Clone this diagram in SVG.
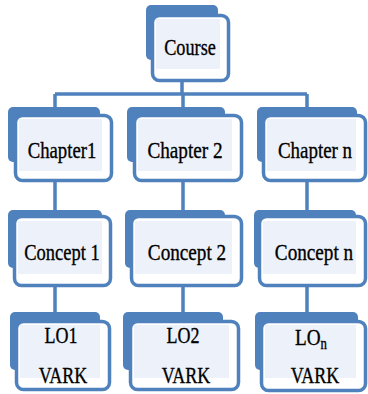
<svg xmlns="http://www.w3.org/2000/svg" width="368" height="394" viewBox="0 0 368 394">
<style>
.back{fill:#4f81bd}
.front{fill:#ffffff;stroke:#4f81bd;stroke-width:3.5}
.inner{fill:#edf1f9}
.lbl{font-family:"Liberation Serif","Times New Roman",serif;font-size:24px;fill:#000;stroke:#000;stroke-width:0.35;text-anchor:middle}
.conn{stroke:#4f81bd;stroke-width:3.5;fill:none}
</style>
<rect width="368" height="394" fill="#ffffff"/>
<g id="connectors">
<path class="conn" d="M182,80 V94 M55,94 H307 M55,94 V110 M183,94 V110 M307,94 V110"/>
<path class="conn" d="M55,180 V212 M183,180 V212 M307,180 V212"/>
<path class="conn" d="M55,285 V315 M183,285 V315 M307,285 V315"/>
</g>
<g id="course">
<rect class="back" x="146" y="5" width="72" height="55" rx="5"/>
<rect class="front" x="152.5" y="15.5" width="76" height="65" rx="7"/>
<rect class="inner" x="156" y="19" width="64" height="50"/>
<text class="lbl" font-family="Liberation Serif, serif" font-size="26" transform="translate(190,55) scale(0.76,1)">Course</text>
</g>
<g id="chapter1">
<rect class="back" x="8" y="107" width="92" height="55" rx="5"/>
<rect class="front" x="15.5" y="115.5" width="96" height="65" rx="7"/>
<rect class="inner" x="19" y="119" width="83" height="52"/>
<text class="lbl" font-family="Liberation Serif, serif" transform="translate(62,158) scale(0.78,1)">Chapter1</text>
</g>
<g id="chapter2">
<rect class="back" x="127" y="107" width="98" height="55" rx="5"/>
<rect class="front" x="134.5" y="115.5" width="107" height="65" rx="7"/>
<rect class="inner" x="138" y="119" width="94" height="52"/>
<text class="lbl" font-family="Liberation Serif, serif" transform="translate(185,158) scale(0.8,1)">Chapter 2</text>
</g>
<g id="chaptern">
<rect class="back" x="257" y="107" width="100" height="55" rx="5"/>
<rect class="front" x="263.5" y="115.5" width="102" height="65" rx="7"/>
<rect class="inner" x="267" y="119" width="89" height="52"/>
<text class="lbl" font-family="Liberation Serif, serif" transform="translate(315,158) scale(0.79,1)">Chapter n</text>
</g>
<g id="concept1">
<rect class="back" x="8" y="210" width="94" height="58" rx="5"/>
<rect class="front" x="14.5" y="216.5" width="96" height="69" rx="7"/>
<rect class="inner" x="18" y="221" width="84" height="53"/>
<text class="lbl" font-family="Liberation Serif, serif" transform="translate(62,260) scale(0.77,1)">Concept 1</text>
</g>
<g id="concept2">
<rect class="back" x="125" y="210" width="100" height="58" rx="5"/>
<rect class="front" x="131.5" y="216.5" width="110" height="69" rx="7"/>
<rect class="inner" x="135" y="221" width="97" height="53"/>
<text class="lbl" font-family="Liberation Serif, serif" transform="translate(187,260) scale(0.8,1)">Concept 2</text>
</g>
<g id="conceptn">
<rect class="back" x="254" y="210" width="102" height="58" rx="5"/>
<rect class="front" x="259.5" y="216.5" width="106" height="69" rx="7"/>
<rect class="inner" x="263" y="221" width="93" height="53"/>
<text class="lbl" font-family="Liberation Serif, serif" transform="translate(314,260) scale(0.8,1)">Concept n</text>
</g>
<g id="lo1">
<rect class="back" x="10" y="312" width="90" height="58" rx="5"/>
<rect class="front" x="16.5" y="321.5" width="93" height="68" rx="7"/>
<rect class="inner" x="20" y="325" width="80" height="53"/>
<text class="lbl" font-family="Liberation Serif, serif" transform="translate(61,343) scale(0.75,1)">LO1</text>
<text class="lbl" font-family="Liberation Serif, serif" font-size="25" transform="translate(63,383) scale(0.75,1)">VARK</text>
</g>
<g id="lo2">
<rect class="back" x="123" y="312" width="100" height="58" rx="5"/>
<rect class="front" x="130.5" y="321.5" width="108" height="68" rx="7"/>
<rect class="inner" x="134" y="325" width="95" height="53"/>
<text class="lbl" font-family="Liberation Serif, serif" transform="translate(183,343) scale(0.75,1)">LO2</text>
<text class="lbl" font-family="Liberation Serif, serif" font-size="25" transform="translate(186,383) scale(0.75,1)">VARK</text>
</g>
<g id="lon">
<rect class="back" x="255" y="312" width="103" height="58" rx="5"/>
<rect class="front" x="261.5" y="321.5" width="104" height="69" rx="7"/>
<rect class="inner" x="265" y="325" width="91" height="53"/>
<text class="lbl" font-family="Liberation Serif, serif" transform="translate(311,345) scale(0.8,1)">LO<tspan font-size="16" dy="4">n</tspan></text>
<text class="lbl" font-family="Liberation Serif, serif" font-size="25" transform="translate(315,383) scale(0.75,1)">VARK</text>
</g>
</svg>
